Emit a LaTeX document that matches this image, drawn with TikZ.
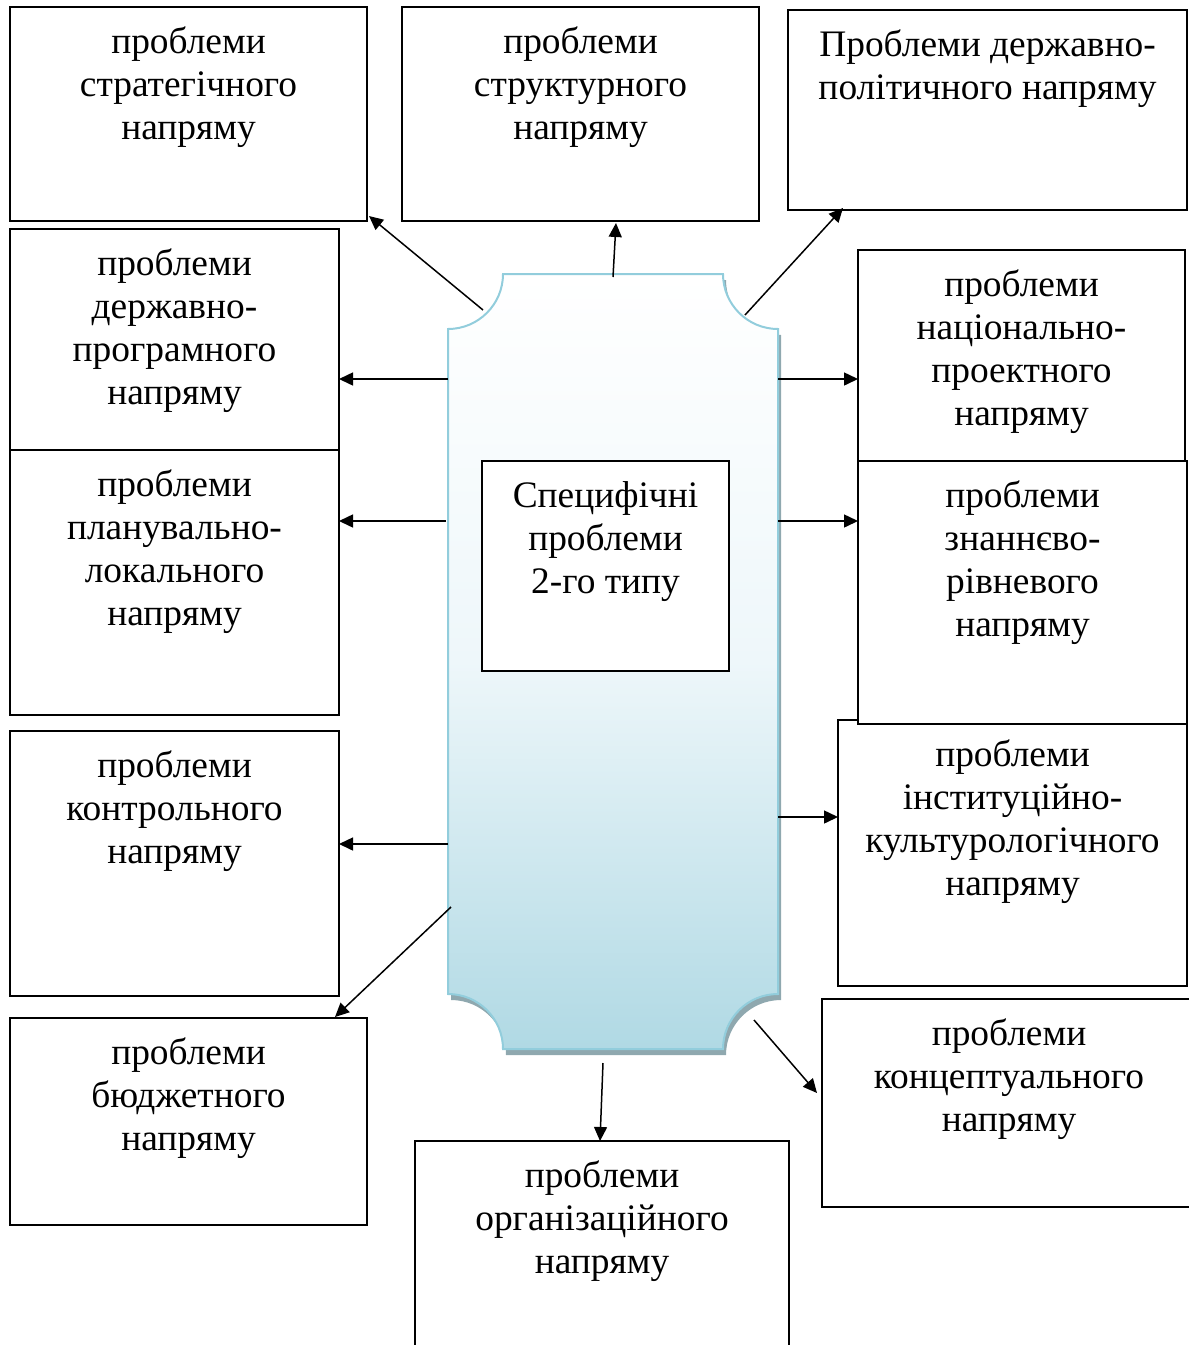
\documentclass[tikz,border=0pt]{standalone}
\usepackage{fontspec}
\setmainfont{Liberation Serif}
\usetikzlibrary{arrows.meta,calc}
\definecolor{plqborder}{RGB}{146,205,220}
\definecolor{plqbottom}{RGB}{176,217,228}
\definecolor{plqmid}{RGB}{238,247,250}
\definecolor{plqshadow}{RGB}{143,168,175}
\newcommand\plq[1]{\path[#1] (503,274) -- (723,274) arc[start angle=180,end angle=270,radius=27.5pt] -- (778,994) arc[start angle=90,end angle=180,radius=27.5pt] -- (503,1049) arc[start angle=0,end angle=90,radius=27.5pt] -- (448,329) arc[start angle=270,end angle=360,radius=27.5pt] -- cycle;}
\newcommand\mkbox[5]{\node[box, minimum width={(#4-#2)*0.5pt}, minimum height={(#5-#3)*0.5pt}] (#1) at (#2,#3) {};}
% #1 box name, #2 number of lines, #3 text (anchor base = last line baseline)
\newcommand\mktxt[3]{\node[txt] (#1t) at ($(#1.north)+(0,{46+43*(#2-1)})$) {#3};}
\begin{document}
\begin{tikzpicture}[x=0.5pt,y=-0.5pt,
  box/.style={draw, line width=1pt, fill=white, inner sep=0pt, outer sep=0pt, anchor=north west},
  txt/.style={anchor=base, align=center, inner sep=0pt, font=\fontsize{18.7pt}{21.5pt}\selectfont},
  arr/.style={line width=0.75pt, -{Triangle[length=7pt,width=6.5pt]}}]
\useasboundingbox (0,0) rectangle (1189,1345);
\clip (0,0) rectangle (1189,1345);
% central plaque
\plq{fill=plqshadow, shift={(3,6)}}
\plq{top color=white, bottom color=plqbottom, middle color=plqmid, draw=plqborder, line width=1pt}
% boxes
\mkbox{strat}{10}{7}{367}{221}
\mkbox{struct}{402}{7}{759}{221}
\mkbox{pol}{788}{10}{1187}{210}
\mkbox{prog}{10}{229}{339}{493}
\mkbox{plan}{10}{450}{339}{715}
\mkbox{ctrl}{10}{731}{339}{996}
\mkbox{bud}{10}{1018}{367}{1225}
\mkbox{org}{415}{1141}{789}{1380}
\mkbox{conc}{822}{999}{1196}{1207}
\mkbox{nat}{858}{250}{1185}{490}
\mkbox{inst}{838}{720}{1187}{986}
\mkbox{know}{858}{461}{1187}{724}
\mkbox{spec}{482}{461}{729}{671}
% texts
\mktxt{strat}{3}{проблеми\\стратегічного\\напряму}
\mktxt{struct}{3}{проблеми\\структурного\\напряму}
\mktxt{pol}{2}{Проблеми державно-\\політичного напряму}
\mktxt{prog}{4}{проблеми\\державно-\\програмного\\напряму}
\mktxt{plan}{4}{проблеми\\планувально-\\локального\\напряму}
\mktxt{ctrl}{3}{проблеми\\контрольного\\напряму}
\mktxt{bud}{3}{проблеми\\бюджетного\\напряму}
\node[txt] (orgt) at (602,1273) {проблеми\\організаційного\\напряму};
\node[txt] (conct) at (1009,1131) {проблеми\\концептуального\\напряму};
\mktxt{nat}{4}{проблеми\\національно-\\проектного\\напряму}
\mktxt{inst}{4}{проблеми\\інституційно-\\культурологічного\\напряму}
\mktxt{know}{4}{проблеми\\знаннєво-\\рівневого\\напряму}
\mktxt{spec}{3}{Специфічні\\проблеми\\2-го типу}
% arrow start points on the plaque
\coordinate (a1) at (483,310);
\coordinate (a2) at (613,277);
\coordinate (a3) at (745,315);
\coordinate (a4) at (448,379);
\coordinate (a5) at (446,521);
\coordinate (a6) at (448,844);
\coordinate (a7) at (451,907);
\coordinate (a8) at (603,1063);
\coordinate (a9) at (754,1020);
\coordinate (a10) at (778,817);
\coordinate (a11) at (778,521);
\coordinate (a12) at (778,379);
% connectors
\draw[arr] (a1) -- ($(strat.south east)+(2,-5)$);
\draw[arr] (a2) -- ($(struct.south)+(35.5,2)$);
\draw[arr] (a3) -- ($(pol.south west)+(55,-2)$);
\draw[arr] (a4) -- (a4 -| prog.east);
\draw[arr] (a5) -- (a5 -| plan.east);
\draw[arr] (a6) -- (a6 -| ctrl.east);
\draw[arr] (a7) -- ($(bud.north east)+(-32,-1)$);
\draw[arr] (a8) -- ($(org.north)+(-2,0)$);
\draw[arr] (a9) -- ($(conc.west)+(-5,-10)$);
\draw[arr] (a10) -- (a10 -| inst.west);
\draw[arr] (a11) -- (a11 -| know.west);
\draw[arr] (a12) -- (a12 -| nat.west);
\end{tikzpicture}
\end{document}
